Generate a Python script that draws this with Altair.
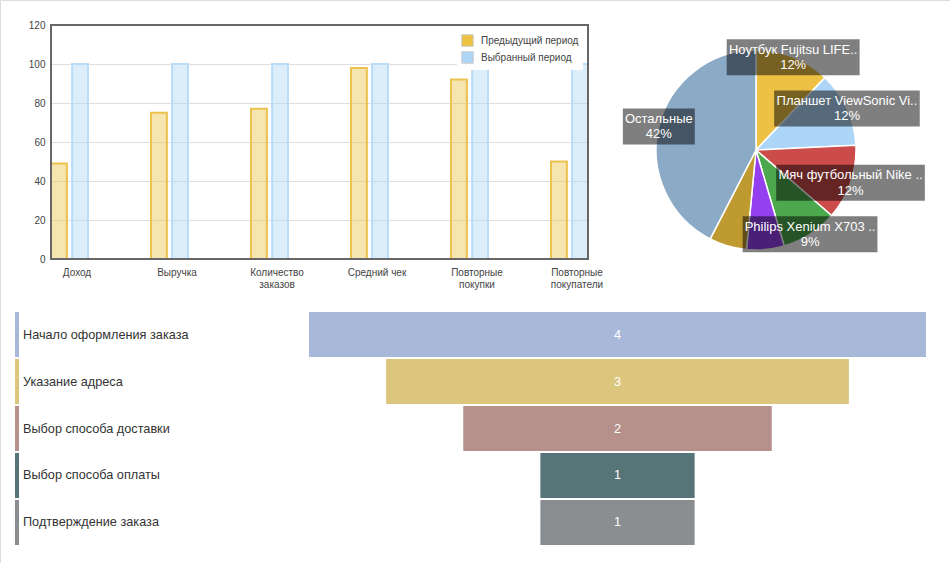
import altair as alt
import pandas as pd

FONT = "Arial, 'Liberation Sans', sans-serif"

# ---------------- data ----------------
# Grouped bars: previous vs selected period (selected period = 100)
metrics = ["Доход", "Выручка", "Количество заказов", "Средний чек",
           "Повторные покупки", "Повторные покупатели"]
previous_period = [49, 75, 77, 98, 92, 50]
selected_period = [100, 100, 100, 100, 100, 100]
series_names = ["Предыдущий период", "Выбранный период"]

# Pie: sales by product
products = ["Ноутбук Fujitsu LIFE..", "Планшет ViewSonic Vi..", "Мяч футбольный Nike ..",
            "Philips Xenium X703 ..", "Товар 5", "Товар 6", "Остальные"]
product_counts = [4, 4, 4, 3, 2, 2, 14]

# Funnel: checkout steps
stages = ["Начало оформления заказа", "Указание адреса", "Выбор способа доставки",
          "Выбор способа оплаты", "Подтверждение заказа"]
stage_counts = [4, 3, 2, 1, 1]

# ---------------- styles ----------------
series_fill = ["#ecc240", "#afd6f6"]
series_stroke = ["#ebc24c", "#b9dcf8"]
pie_colors = ["#edc244", "#acd5f7", "#cc4b4b", "#4ca84c", "#9440ee", "#bf9a30", "#8aaac6"]
stage_colors = ["#a8b8d8", "#dcc57c", "#b6908a", "#577578", "#8a8e90"]

W, H = 950, 563
# bar chart plot area
PL, PR, PT, PB = 51, 588, 25, 259
# pie centre / radius
CX, CY, R = 756, 150, 100
# funnel area
FL, FR, FT, FB = 309, 926, 312, 545

# approximate Arial advance widths (1/1000 em) for sizing the label boxes
_groups = [(222, "ijl"), (278, " .ftI"), (333, "r"), (365, "г"), (438, "к"), (458, "тз"),
           (500, "cksvxyzусх"), (510, "э"), (521, "чь"), (531, "в"), (542, "пя"),
           (552, "н"), (556, "abdeghnopqu0123456789аеорL"), (559, "ий"), (573, "бц"),
           (583, "дл"), (611, "F"), (625, "ъ"), (667, "EPSVXж"), (688, "м"),
           (719, "ыП"), (722, "wNНД"), (750, "ю"), (778, "ОO"), (802, "ш"),
           (823, "фщ"), (833, "mМ"), (889, "%")]
_widths = {ch: w for w, chars in _groups for ch in chars}


def text_width(s, size):
    return sum(_widths.get(ch, 556) for ch in s) * size / 1000.0


# ---------------- bar chart ----------------
bar_df = pd.DataFrame({
    "metric": metrics * 2,
    "series": [s for s in series_names for _ in metrics],
    "value": previous_period + selected_period,
})

bars = alt.Chart(bar_df).mark_bar(fillOpacity=0.42, strokeWidth=2).encode(
    x=alt.X("metric:N", sort=metrics, title=None,
            scale=alt.Scale(range=[PL, PR], paddingInner=0.63, paddingOuter=0),
            axis=alt.Axis(orient="bottom", offset=PB - H, labelAngle=0, labelOffset=7.5,
                          ticks=False, domain=False, grid=False, labelPadding=8,
                          labelFontSize=10, labelColor="#444", labelLineHeight=12,
                          labelFont=FONT,
                          labelExpr="length(datum.label) > 12 ? split(datum.label, ' ') : datum.label")),
    xOffset=alt.XOffset("series:N", sort=series_names,
                        scale=alt.Scale(paddingInner=0.25, paddingOuter=0)),
    y=alt.Y("value:Q", title=None,
            scale=alt.Scale(domain=[0, 120], range=[PB, PT], nice=False),
            axis=alt.Axis(orient="left", offset=-PL, values=list(range(0, 121, 20)),
                          grid=True, gridColor="#dedede", domain=False, ticks=False,
                          labelPadding=6, labelFontSize=10, labelColor="#444",
                          labelFont=FONT)),
    fill=alt.Color("series:N", sort=series_names,
                   scale=alt.Scale(domain=series_names, range=series_fill),
                   legend=alt.Legend(title=None, orient="none", legendX=457, legendY=30,
                                     fillColor="white", padding=4, symbolType="square",
                                     symbolSize=130, symbolStrokeColor="#c8c8c8",
                                     symbolStrokeWidth=1, symbolOpacity=1,
                                     labelFontSize=10, labelColor="#444", labelFont=FONT,
                                     rowPadding=0, labelOffset=7)),
    stroke=alt.Stroke("series:N", sort=series_names,
                      scale=alt.Scale(domain=series_names, range=series_stroke),
                      legend=None),
)

frame = alt.Chart(pd.DataFrame({"f": [0]})).mark_rect(
    filled=False, stroke="#676767", strokeWidth=2
).encode(x=alt.value(PL), x2=alt.value(PR), y=alt.value(PT), y2=alt.value(PB))

bar_part = alt.layer(bars, frame)

# ---------------- pie chart ----------------
pie_df = pd.DataFrame({
    "product": products,
    "count": product_counts,
    "idx": list(range(len(products))),
})
total = sum(product_counts)
pie_df["label"] = [f"{p}\n{round(100 * c / total)}%" for p, c in zip(products, product_counts)]
pie_df["box_w"] = [max(text_width(p, 13), text_width(f"{round(100 * c / total)}%", 13)) + 4
                   for p, c in zip(products, product_counts)]

pie_x = alt.Scale(domain=[-R, R], range=[CX - R, CX + R], nice=False, zero=False)
pie_y = alt.Scale(domain=[-R, R], range=[CY + R, CY - R], nice=False, zero=False)

arcs = alt.Chart(pie_df).mark_arc(outerRadius=R, stroke="white", strokeWidth=1.5).encode(
    theta=alt.Theta("count:Q", stack=True),
    order=alt.Order("idx:Q"),
    color=alt.Color("product:N", scale=alt.Scale(domain=products, range=pie_colors),
                    legend=None),
    x=alt.XDatum(0, type="quantitative", scale=pie_x, axis=None),
    y=alt.YDatum(0, type="quantitative", scale=pie_y, axis=None),
)

pie_labels_base = alt.Chart(pie_df).transform_joinaggregate(
    total="sum(count)"
).transform_window(
    cum="sum(count)", sort=[alt.SortField("idx")], frame=[None, 0]
).transform_calculate(
    mid="2 * PI * (datum.cum - datum.count / 2) / datum.total",
    share="datum.count / datum.total",
).transform_calculate(
    lx=f"{R} * sin(datum.mid)",
    ly=f"{R} * cos(datum.mid)",
).transform_calculate(
    bx1="datum.lx - datum.box_w / 2",
    bx2="datum.lx + datum.box_w / 2",
    by1="datum.ly - 18",
    by2="datum.ly + 18",
).transform_filter("datum.share >= 0.08")

boxes = pie_labels_base.mark_rect(fill="black", opacity=0.5).encode(
    x=alt.X("bx1:Q", scale=pie_x, axis=None),
    x2="bx2:Q",
    y=alt.Y("by1:Q", scale=pie_y, axis=None),
    y2="by2:Q",
)

pie_text = pie_labels_base.mark_text(
    color="white", fontSize=13, lineBreak="\n", lineHeight=15.5, dy=-7.5, font=FONT
).encode(
    x=alt.X("lx:Q", scale=pie_x, axis=None),
    y=alt.Y("ly:Q", scale=pie_y, axis=None),
    text="label:N",
)

pie_part = alt.layer(arcs, boxes, pie_text)

# ---------------- funnel ----------------
fun_df = pd.DataFrame({"stage": stages, "count": stage_counts})
half = max(stage_counts) / 2
fx = alt.Scale(domain=[-half, half], range=[FL, FR], nice=False, zero=False)
fy = alt.Scale(domain=stages, range=[FT, FB], paddingInner=0.04, paddingOuter=0)
stage_color = alt.Color("stage:N", scale=alt.Scale(domain=stages, range=stage_colors),
                        legend=None)
fy_enc = alt.Y("stage:N", sort=stages, scale=fy, axis=None)

fun_base = alt.Chart(fun_df).transform_calculate(
    lo="-datum.count / 2", hi="datum.count / 2"
)

fun_bars = fun_base.mark_rect().encode(
    x=alt.X("lo:Q", scale=fx, axis=None), x2="hi:Q", y=fy_enc, color=stage_color
)
fun_values = fun_base.mark_text(color="white", fontSize=12.7, font=FONT).encode(
    x=alt.XDatum(0, type="quantitative", scale=fx, axis=None), y=fy_enc, text="count:Q"
)
stripes = fun_base.mark_rect().encode(
    x=alt.value(15), x2=alt.value(19), y=fy_enc, color=stage_color
)
stage_labels = fun_base.mark_text(align="left", color="#333", fontSize=12.7, font=FONT).encode(
    x=alt.value(23), y=fy_enc, text="stage:N"
)

funnel_part = alt.layer(fun_bars, fun_values, stripes, stage_labels)

# ---------------- dashboard ----------------
chart = alt.layer(bar_part, pie_part, funnel_part).resolve_scale(
    x="independent", y="independent", color="independent", stroke="independent"
).properties(
    width=W, height=H, padding=0, autosize=alt.AutoSizeParams(type="none"),
).configure_view(
    stroke="#dddddd", strokeWidth=2
).configure(font=FONT)

chart.save("out.html", embed_options={"renderer": "svg", "actions": False})
